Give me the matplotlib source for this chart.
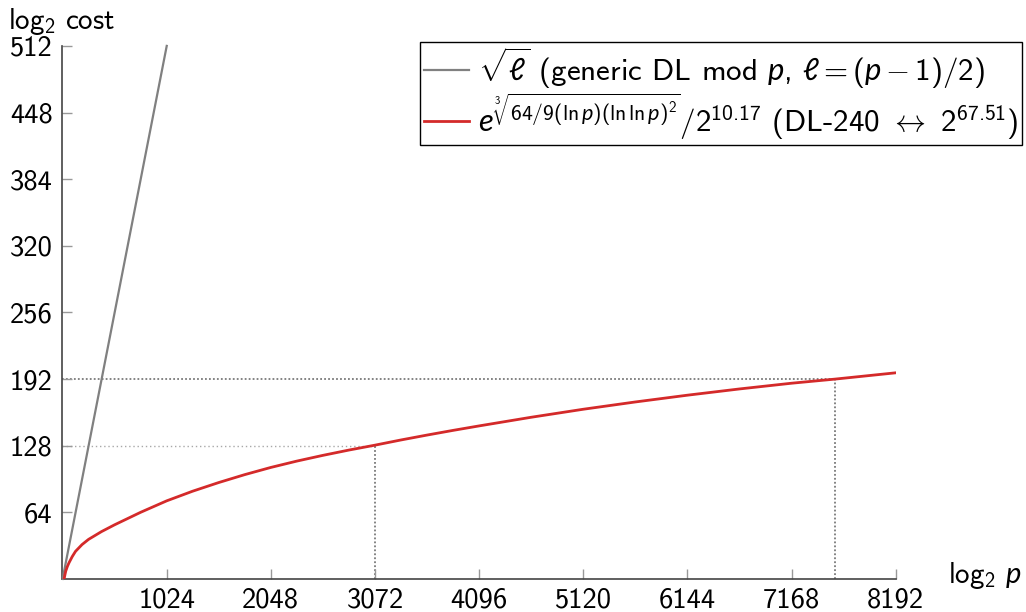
import matplotlib
matplotlib.use("Agg")
import matplotlib.pyplot as plt

# ---- data ----
generic_x = [1, 1025]
generic_y = [0, 512]

nfs_x = [16, 24, 32, 48, 64, 96, 128, 192, 256, 384, 512, 640, 768, 896, 1024,
         1280, 1536, 1792, 2048, 2304, 2560, 2816, 3072, 3328, 3584, 3840, 4096,
         4608, 5120, 5632, 6144, 6656, 7168, 7600, 8192]
nfs_y = [0, 4, 7.5, 12, 15.5, 21.5, 26.5, 33, 38, 45.5, 52, 58, 64, 69.5, 75,
         84.3, 92.6, 100.2, 107.1, 113.2, 118.7, 123.8, 128.5, 133.5, 138.2, 142.7, 147,
         155.3, 163, 170, 176.5, 182.5, 188, 192, 198]

mark_128_x = 3072
mark_192_x = 7600
x_ticks = [1024, 2048, 3072, 4096, 5120, 6144, 7168, 8192]
y_ticks = [64, 128, 192, 256, 320, 384, 448, 512]

plt.rcParams['font.family'] = ['cmss10', 'DejaVu Sans']
plt.rcParams['axes.unicode_minus'] = False
plt.rcParams['mathtext.fontset'] = 'custom'
plt.rcParams['mathtext.rm'] = 'cmss10'
plt.rcParams['mathtext.it'] = 'Lato:italic'
plt.rcParams['mathtext.fallback'] = 'cm'

fig = plt.figure(figsize=(10.26, 6.12), dpi=100)
ax = fig.add_axes([0.0609, 0.054, 0.8121, 0.871])

dark = '#7a7a7a'
ax.plot([0, mark_192_x], [192, 192], linestyle=(0, (1, 1.2)), color=dark, lw=1.3, zorder=1)
ax.plot([mark_192_x, mark_192_x], [0, 192], linestyle=(0, (1, 1.2)), color=dark, lw=1.3, zorder=1)
ax.plot([0, mark_128_x], [128, 128], linestyle=(0, (1, 2)), color='#a8a8a8', lw=1.0, zorder=1)
ax.plot([mark_128_x, mark_128_x], [0, 128], linestyle=(0, (1, 1.2)), color=dark, lw=1.3, zorder=1)

l1, = ax.plot(generic_x, generic_y, color='#808080', lw=1.6, clip_on=False, zorder=3,
              label=r'$\sqrt{\ell}$ (generic DL mod $p$, $\ell=(p-1)/2$)')
l2, = ax.plot(nfs_x, nfs_y, color='#d42a2a', lw=2.0, zorder=3,
              label=r'$e^{\sqrt[3]{64/9(\ln p)(\ln\ln p)^2}}/2^{10.17}$ (DL-240 $\leftrightarrow$ $2^{67.51}$)')

ax.set_xlim(0, 8192)
ax.set_ylim(0, 512)
ax.set_xticks(x_ticks)
ax.set_yticks(y_ticks)
ax.set_xticklabels([str(v) for v in x_ticks])
ax.set_yticklabels([str(v) for v in y_ticks])
for s in ['top', 'right']:
    ax.spines[s].set_visible(False)
for s in ['left', 'bottom']:
    ax.spines[s].set_color('#444444')
    ax.spines[s].set_linewidth(1.2)
ax.tick_params(axis='both', direction='in', length=7.5, width=1.0, color='#999999',
               labelsize=20.5, labelcolor='black')
ax.tick_params(axis='x', pad=6)
ax.tick_params(axis='y', pad=7)

leg = fig.legend(handles=[l1, l2], loc='upper right', bbox_to_anchor=(0.996, 0.932),
                 fontsize=22.3, frameon=True, fancybox=False, framealpha=1,
                 handlelength=1.45, handletextpad=0.3, borderpad=0.12, labelspacing=0.0,
                 borderaxespad=0)
leg.get_frame().set_edgecolor('black')
leg.get_frame().set_linewidth(1.0)

fig.text(0.008, 0.952, r'log$_2$ cost', fontsize=21, ha='left', va='baseline')
fig.text(0.924, 0.047, r'log$_2$ $p$', fontsize=21, ha='left', va='baseline')

fig.savefig('out.png', dpi=100)
